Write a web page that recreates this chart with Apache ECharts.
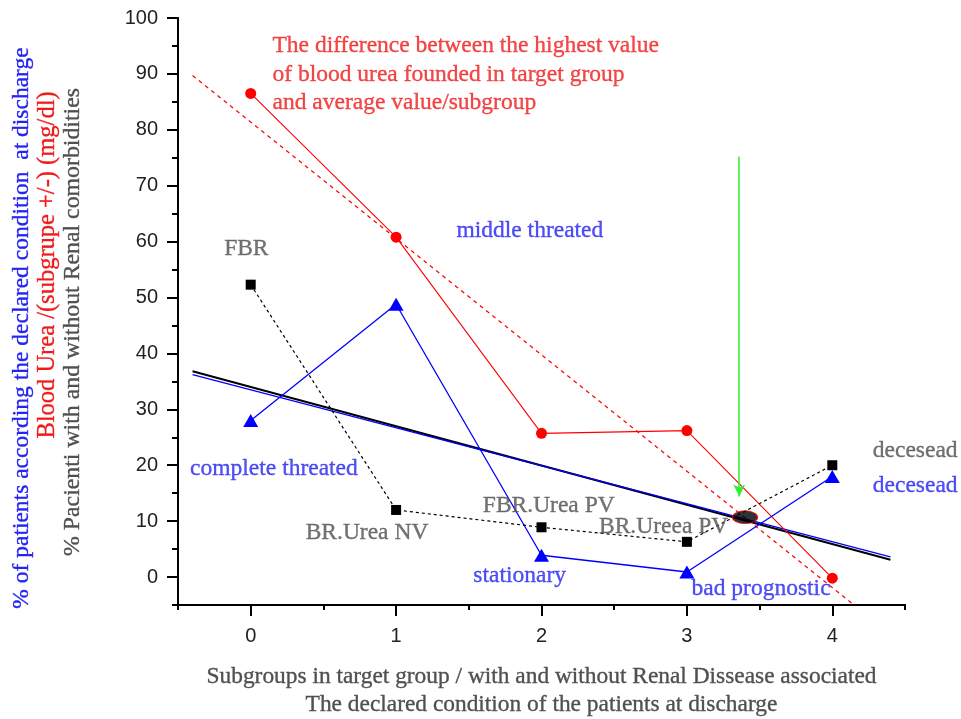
<!DOCTYPE html>
<html>
<head>
<meta charset="utf-8">
<script src="https://cdn.jsdelivr.net/npm/echarts@6/dist/echarts.min.js"></script>
<style>
  html, body { margin: 0; padding: 0; background: #fff; }
  #chart { width: 961px; height: 719px; }
</style>
</head>
<body>
<div id="chart"></div>
<script>
// Subgroups (x positions)
const groups = [0, 1, 2, 3, 4];
// Blood urea difference per subgroup (mg/dl)
const bloodUrea = [86.5, 60.8, 25.7, 26.2, -0.2];
// % of patients by declared condition at discharge
const dischargePct = [28.0, 48.8, 3.9, 0.9, 18.0];
// % patients with / without renal comorbidities
const renalPct = [52.3, 12.0, 8.9, 6.3, 20.0];

// Linear trend lines (start / end points)
const ureaTrend = [[-0.4, 89.7], [4.15, -5]];
const dischargeTrend = [[-0.4, 36.2], [4.4, 3.6]];
const renalTrend = [[-0.4, 36.8], [4.4, 3.1]];

// Crossing point of the trends and the arrow pointing at it
const crossPoint = [3.4, 10.7];
const arrowStart = [3.36, 75.2];
const arrowEnd = [3.36, 14.4];

// Axis ticks
const yMajorTicks = [0, 10, 20, 30, 40, 50, 60, 70, 80, 90, 100];
const yMinorTicks = [-5, 5, 15, 25, 35, 45, 55, 65, 75, 85, 95];
const xMajorTicks = [0, 1, 2, 3, 4];
const xMinorTicks = [-0.5, 0.5, 1.5, 2.5, 3.5, 4.5];

// In-plot annotations
const noteText = ['middle threated', 'complete threated', 'stationary', 'bad prognostic', 'decesead',
                  'FBR', 'BR.Urea NV', 'FBR.Urea PV', 'BR.Ureea PV', 'decesead'];
const noteX = [1.92, 0.16, 1.85, 3.51, 4.57, -0.03, 0.80, 2.05, 2.84, 4.57];
const noteY = [62.0, 19.3, 0.2, -2.1, 16.3, 58.75, 7.9, 12.7, 8.9, 22.5];
const noteKind = ['blue', 'blue', 'blue', 'blue', 'blue', 'gray', 'gray', 'gray', 'gray', 'gray'];
const titleLines = ['The difference between the highest value',
                    'of blood urea founded in target group',
                    'and average value/subgroup'];
const titleAnchor = [0.15, 95.2];

const BLUE = '#0000ff', BLUE_TXT = '#2424f4', RED = '#ff0000', RED_TXT = '#f01a1a', GRAY_TXT = '#505050';
const SERIF = '"Liberation Serif", "DejaVu Serif", serif';
const SANS = '"Liberation Sans", Arial, sans-serif';
const NOTE_SIZE = 23.5;
// thin outline in the glyph colour to give the serif text a little more body
const heavy = c => ({ color: c, textBorderColor: c, textBorderWidth: 0.35 });

const pairs = (xs, ys) => xs.map((x, i) => [x, ys[i]]);

const noteData = noteText.map((t, i) => ({
  value: [noteX[i], noteY[i]],
  name: t,
  label: heavy(noteKind[i] === 'blue' ? BLUE_TXT : GRAY_TXT)
}));
noteData.push({
  value: titleAnchor,
  name: titleLines.join('\n'),
  label: Object.assign(heavy(RED_TXT), { align: 'left', verticalAlign: 'top', lineHeight: 28.5, offset: [0, -13] })
});

const axisLine = { show: true, onZero: false, lineStyle: { color: '#000', width: 2 } };

const chart = echarts.init(document.getElementById('chart'), null, { renderer: 'canvas' });
chart.setOption({
  animation: false,
  backgroundColor: '#fff',
  grid: { left: 178, top: 18, width: 727, height: 587, containLabel: false, outerBoundsMode: 'none' },
  xAxis: [
    {
      type: 'value', min: -0.5, max: 4.5, position: 'bottom',
      axisLine: axisLine,
      axisTick: { show: true, length: 11, customValues: xMajorTicks, lineStyle: { color: '#000', width: 2 } },
      axisLabel: { show: true, customValues: xMajorTicks, margin: 21, color: '#222', fontFamily: SANS, fontSize: 20 },
      splitLine: { show: false },
      name: 'Subgroups in target group / with and without Renal Dissease associated\nThe declared condition of the patients at discharge',
      nameLocation: 'middle', nameGap: 58,
      nameTextStyle: Object.assign(heavy(GRAY_TXT), { fontFamily: SERIF, fontSize: 23.4, lineHeight: 28, verticalAlign: 'top' })
    },
    {
      type: 'value', min: -0.5, max: 4.5, position: 'bottom',
      axisLine: axisLine,
      axisTick: { show: true, length: 5, customValues: xMinorTicks, lineStyle: { color: '#000', width: 2 } },
      axisLabel: { show: false },
      splitLine: { show: false }
    }
  ],
  yAxis: [
    {
      type: 'value', min: -5, max: 100, position: 'left',
      axisLine: axisLine,
      axisTick: { show: true, length: 11, customValues: yMajorTicks, lineStyle: { color: '#000', width: 2 } },
      axisLabel: { show: true, customValues: yMajorTicks, margin: 20, color: '#222', fontFamily: SANS, fontSize: 20 },
      splitLine: { show: false }
    },
    {
      type: 'value', min: -5, max: 100, position: 'left',
      axisLine: axisLine,
      axisTick: { show: true, length: 6, customValues: yMinorTicks, lineStyle: { color: '#000', width: 2 } },
      axisLabel: { show: false },
      splitLine: { show: false }
    }
  ],
  graphic: [
    {
      type: 'text', x: 22, y: 328, rotation: Math.PI / 2,
      style: { text: '% of patients according the declared condition  at discharge', fill: BLUE_TXT,
               stroke: BLUE_TXT, lineWidth: 0.35,
               font: '23.5px ' + SERIF, align: 'center', verticalAlign: 'middle' }
    },
    {
      type: 'text', x: 48, y: 265, rotation: Math.PI / 2,
      style: { text: 'Blood Urea /(subgrupe +/-) (mg/dl)', fill: RED_TXT,
               stroke: RED_TXT, lineWidth: 0.35,
               font: '24.5px ' + SERIF, align: 'center', verticalAlign: 'middle' }
    },
    {
      type: 'text', x: 73, y: 322, rotation: Math.PI / 2,
      style: { text: '% Pacienti with and without Renal comorbidities', fill: GRAY_TXT,
               stroke: GRAY_TXT, lineWidth: 0.35,
               font: '23.8px ' + SERIF, align: 'center', verticalAlign: 'middle' }
    }
  ],
  series: [
    {
      name: 'Blood urea trend', type: 'line', data: ureaTrend, symbol: 'none', z: 2,
      lineStyle: { color: RED, width: 1.2, type: [4, 4] }
    },
    {
      name: 'Renal trend', type: 'line', data: renalTrend, symbol: 'none', z: 2,
      lineStyle: { color: '#000', width: 2 }
    },
    {
      name: 'Discharge trend', type: 'line', data: dischargeTrend, symbol: 'none', z: 3,
      lineStyle: { color: BLUE, width: 1.3 }
    },
    {
      name: 'Blood urea', type: 'line', data: pairs(groups, bloodUrea), z: 4,
      symbol: 'circle', symbolSize: 11, itemStyle: { color: RED },
      lineStyle: { color: RED, width: 1.1 }
    },
    {
      name: 'Discharge condition', type: 'line', data: pairs(groups, dischargePct), z: 4,
      symbol: 'triangle', symbolSize: [15, 13], itemStyle: { color: BLUE },
      lineStyle: { color: BLUE, width: 1.3 }
    },
    {
      name: 'Renal comorbidities', type: 'line', data: pairs(groups, renalPct), z: 4,
      symbol: 'rect', symbolSize: 10, itemStyle: { color: '#000' },
      lineStyle: { color: '#000', width: 1.2, type: [3, 3] }
    },
    {
      name: 'Crossing', type: 'scatter', data: [crossPoint], z: 5,
      symbol: 'circle', symbolSize: [25, 13],
      itemStyle: { color: '#000', borderColor: RED, borderWidth: 1 },
      markLine: {
        silent: true, symbol: ['none', 'arrow'], symbolSize: [9, 12],
        label: { show: false },
        lineStyle: { color: '#33ee33', width: 1.5, type: 'solid' },
        data: [[{ coord: arrowStart }, { coord: arrowEnd }]]
      }
    },
    {
      name: 'Notes', type: 'scatter', data: noteData, symbolSize: 0, clip: false, z: 6, silent: true,
      label: {
        show: true, position: 'inside', formatter: p => p.name,
        fontFamily: SERIF, fontSize: NOTE_SIZE, align: 'center', verticalAlign: 'middle'
      }
    }
  ]
});
</script>
</body>
</html>
